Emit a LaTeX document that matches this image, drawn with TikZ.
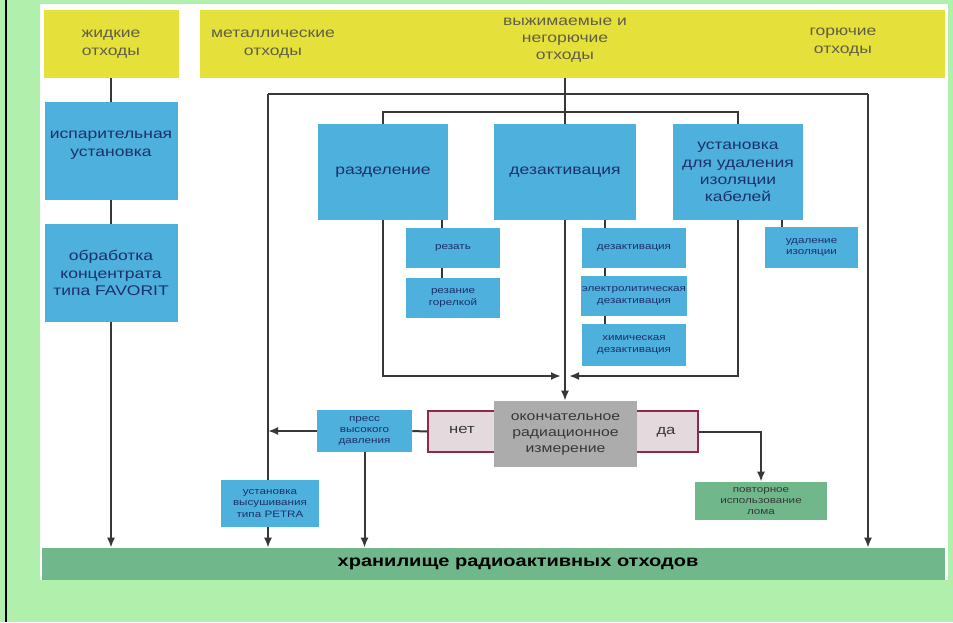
\documentclass[tikz,border=0pt]{standalone}
\usepackage{fontspec}
\setmainfont{Liberation Sans}[FakeStretch=1.25]
\usepackage{tikz}
\usetikzlibrary{arrows.meta,backgrounds}
\definecolor{bggreen}{RGB}{176,240,172}
\definecolor{wasteyellow}{RGB}{230,224,58}
\definecolor{yellowtext}{RGB}{95,95,70}
\definecolor{boxblue}{RGB}{78,176,220}
\definecolor{boxtext}{RGB}{28,48,105}
\definecolor{storegreen}{RGB}{112,184,140}
\definecolor{measuregray}{RGB}{172,172,172}
\definecolor{framered}{RGB}{140,42,72}
\definecolor{framepink}{RGB}{228,218,222}
\definecolor{linegray}{RGB}{55,55,55}

\begin{document}
\begin{tikzpicture}[x=0.75pt,y=-0.75pt,
  wh/.style 2 args={minimum width=#1*0.75pt,minimum height=#2*0.75pt},
  box/.style={draw=none,inner sep=1pt,align=center,text=boxtext},
  yellowbox/.style={box,fill=wasteyellow,text=yellowtext,font=\fontsize{10.5}{13}\selectfont},
  bluebox/.style={box,fill=boxblue,font=\fontsize{10.5}{13}\selectfont},
  smallbox/.style={box,fill=boxblue,font=\fontsize{7}{8.5}\selectfont},
  line/.style={draw=linegray,line width=1.5pt},
  arr/.style={line,-{Latex[length=7.5pt,width=6pt]}}]
  \useasboundingbox (0,0) rectangle (953,622);
  % 背景
  \begin{scope}[on background layer]
    \fill[bggreen] (0,0) rectangle (953,622);
    \fill[white] (40,4) rectangle (948,580);
    \draw[black,line width=2.2pt] (6,0) -- (6,622);
  \end{scope}
  % 顶部
  \node[yellowbox,wh={135}{68}] (liquid) at (111,44) {жидкие\\отходы};
  \node[yellowbox,wh={745}{68}] (solid) at (572.5,44) {};
  \node[yellowbox,fill=none] (metal) at (273,44) {металлические\\отходы};
  \node[yellowbox,fill=none] (pressable) at (565,40) {выжимаемые и\\негорючие\\отходы};
  \node[yellowbox,fill=none] (burnable) at (843,42) {горючие\\отходы};
  % 液体
  \node[bluebox,wh={133}{98}] (evap) at (111,151) {испарительная\\установка\\[-2pt]};
  \node[bluebox,wh={133}{98}] (favorit) at (111,273) {обработка\\концентрата\\типа FAVORIT};
  % 中间
  \node[bluebox,wh={130}{96}] (split) at (383,172) {разделение};
  \node[bluebox,wh={142}{96}] (decont) at (565,172) {дезактивация};
  \node[bluebox,wh={130}{96}] (cable) at (738,172) {установка\\для удаления\\изоляции\\кабелей};
  \node[smallbox,wh={94}{40}] (cut) at (453,248) {резать};
  \node[smallbox,wh={94}{40}] (torch) at (453,298) {резание\\горелкой};
  \node[smallbox,wh={104}{40}] (dzone) at (634,248) {дезактивация};
  \node[smallbox,wh={104}{40}] (dztwo) at (634,296) {электролитическая\\дезактивация};
  \node[smallbox,wh={104}{42}] (dzthree) at (634,345) {химическая\\дезактивация};
  \node[smallbox,wh={93}{41}] (strip) at (811.5,247.5) {удаление\\изоляции};
  % 测量
  \node[box,fill=framepink,draw=framered,line width=1.3pt,wh={270}{41}] (verdict) at (563,431.5) {};
  \node[box,text=linegray,font=\fontsize{10}{12}\selectfont] (no) at (462,430) {нет};
  \node[box,text=linegray,font=\fontsize{10}{12}\selectfont] (yes) at (666,432) {да};
  \node[box,fill=measuregray,text=linegray,font=\fontsize{9.5}{12}\selectfont,wh={143}{66}] (measure) at (565.5,434) {окончательное\\радиационное\\измерение};
  \node[smallbox,wh={95}{42}] (press) at (364.5,431) {пресс\\высокого\\давления};
  \node[smallbox,wh={98}{47}] (petra) at (270,503.5) {установка\\высушивания\\типа PETRA};
  \node[smallbox,fill=storegreen,text=linegray,wh={132}{38}] (reuse) at (761,501) {повторное\\использование\\лома};
  \node[box,fill=storegreen,wh={903}{32}] (store) at (493.5,564) {};
  \node[box,text=black,font=\bfseries\fontsize{12}{14}\selectfont] (storetext) at (518,564) {хранилище радиоактивных отходов};
  \coordinate (outL) at (268,94);
  \coordinate (outR) at (868,94);
  \coordinate (merge) at (565,376);
  % 连线
  \begin{scope}[on background layer]
    \draw[line] (liquid) -- (evap);
    \draw[line] (evap) -- (favorit);
    \draw[arr] (favorit.south) -- (favorit.south |- store.north);
    \draw[line] (solid.south -| decont) -- (decont.north);
    \draw[line] (outL) -- (outR);
    \draw[arr] (outL) -- (outL |- store.north);
    \draw[arr] (outR) -- (outR |- store.north);
    \draw[line] (split.north) -- ++(0,-12) -| (cable.north);
    \draw[arr] (split.south) |- ([xshift=-3pt]merge);
    \draw[arr] (cable.south) |- ([xshift=3pt]merge);
    \draw[arr] (decont.south) -- (decont.south |- measure.north);
    \draw[line] ([xshift=-8pt]cut.north) -- ([xshift=-8pt]cut.north |- split.south);
    \draw[line] ([xshift=-8pt]torch.north) -- ([xshift=-8pt]cut.south);
    \draw[line] ([xshift=-22pt]dzone.north) -- ([xshift=-22pt]dzone.north |- decont.south);
    \draw[line] ([xshift=-22pt]dztwo.north) -- ([xshift=-22pt]dzone.south);
    \draw[line] ([xshift=-22pt]dzthree.north) -- ([xshift=-22pt]dztwo.south);
    \draw[line] ([xshift=-22pt]strip.north) -- ([xshift=-22pt]strip.north |- cable.south);
    \draw[line] (verdict.west) -- (press.east);
    \draw[arr] (press.west) -- (press.west -| outL);
    \draw[arr] (press.south) -- (press.south |- store.north);
    \draw[arr] (verdict.east) -| (reuse.north);
  \end{scope}
\end{tikzpicture}
\end{document}
